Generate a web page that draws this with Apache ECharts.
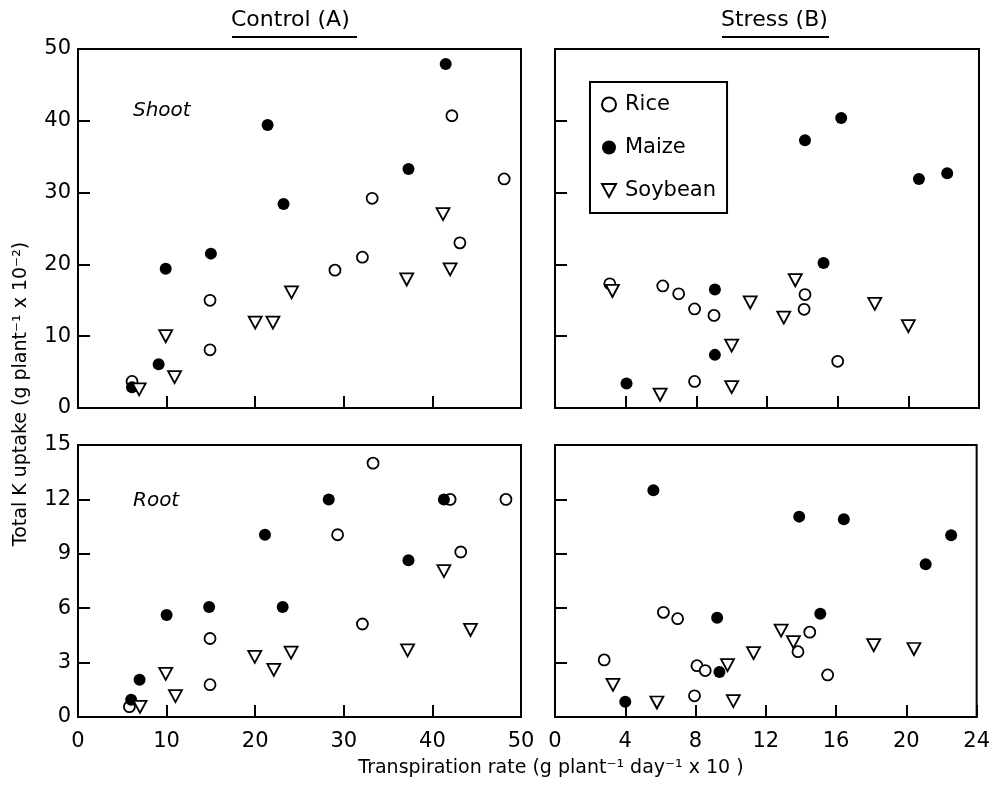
<!DOCTYPE html>
<html>
<head>
<meta charset="utf-8">
<script src="https://cdn.jsdelivr.net/npm/echarts@6/dist/echarts.min.js"></script>
<style>
  html, body { margin: 0; padding: 0; background: #fff; }
  #chart { width: 993px; height: 793px; }
</style>
</head>
<body>
<div id="chart"></div>
<script>
// Shoot, control (A) : [transpiration, K uptake]
const shootControlRice = [[42.2, 40.7], [48.1, 31.9], [33.2, 29.2], [43.1, 23.0], [32.1, 21.0], [29.0, 19.2], [14.9, 15.0], [14.9, 8.1], [6.1, 3.7]];
const shootControlMaize = [[41.5, 47.9], [21.4, 39.4], [37.3, 33.3], [23.2, 28.4], [15.0, 21.5], [9.9, 19.4], [9.1, 6.1], [6.1, 2.9]];
const shootControlSoybean = [[41.2, 27.0], [42.0, 19.3], [37.1, 17.9], [24.1, 16.1], [20.0, 11.9], [22.0, 11.9], [9.9, 10.0], [10.9, 4.3], [6.9, 2.6]];

// Shoot, stress (B)
const shootStressRice = [[3.1, 17.3], [6.1, 17.0], [7.0, 15.9], [7.9, 13.8], [9.0, 12.9], [14.15, 15.8], [14.1, 13.75], [16.0, 6.5], [7.9, 3.7]];
const shootStressMaize = [[16.2, 40.4], [14.15, 37.3], [20.6, 31.9], [22.2, 32.7], [15.2, 20.2], [9.05, 16.5], [9.05, 7.4], [4.05, 3.4]];
const shootStressSoybean = [[3.25, 16.3], [13.6, 17.8], [11.05, 14.7], [12.95, 12.6], [18.1, 14.5], [20.0, 11.4], [10.0, 8.7], [10.0, 2.9], [5.95, 1.85]];

// Root, control (A)
const rootControlRice = [[33.3, 14.0], [29.3, 10.05], [42.0, 12.0], [48.3, 12.0], [43.2, 9.1], [32.1, 5.13], [14.9, 4.33], [14.9, 1.78], [5.8, 0.57]];
const rootControlMaize = [[28.3, 12.0], [41.3, 12.0], [21.1, 10.05], [37.3, 8.65], [14.8, 6.07], [23.1, 6.07], [10.0, 5.62], [6.95, 2.06], [6.0, 0.95]];
const rootControlSoybean = [[41.3, 8.05], [44.3, 4.8], [37.2, 3.68], [24.05, 3.55], [19.95, 3.32], [22.1, 2.6], [9.9, 2.38], [11.0, 1.15], [7.0, 0.56]];

// Root, stress (B)
const rootStressRice = [[2.8, 3.15], [6.17, 5.77], [6.98, 5.42], [8.08, 2.83], [8.55, 2.56], [7.94, 1.17], [14.5, 4.68], [13.83, 3.6], [15.52, 2.32]];
const rootStressMaize = [[5.6, 12.5], [13.9, 11.05], [16.44, 10.9], [22.55, 10.02], [21.1, 8.42], [15.1, 5.7], [9.23, 5.47], [9.36, 2.48], [4.0, 0.84]];
const rootStressSoybean = [[3.3, 1.77], [5.8, 0.8], [9.82, 2.86], [10.15, 0.88], [11.3, 3.52], [12.87, 4.76], [13.57, 4.13], [18.14, 3.96], [20.43, 3.75]];

const speciesNames = ['Rice', 'Maize', 'Soybean'];
const shootTicks = { min: 0, max: 50, interval: 10 };
const rootTicks = { min: 0, max: 15, interval: 3 };
const controlTicks = { min: 0, max: 50, interval: 10 };
const stressTicks = { min: 0, max: 24, interval: 4 };

const font = 'DejaVu Sans';

// downward triangle, drawn as a path so the legend shows it the same way
const downTriangle = 'path://M0,0 L12,0 L6,11 Z';

const markerStyle = {
  Rice: { symbol: 'circle', symbolSize: 11, itemStyle: { color: '#fff', borderColor: '#000', borderWidth: 1.8, opacity: 1 } },
  Maize: { symbol: 'circle', symbolSize: 12, itemStyle: { color: '#000', borderColor: '#000', borderWidth: 0, opacity: 1 } },
  Soybean: { symbol: downTriangle, symbolSize: [13, 12], itemStyle: { color: '#fff', borderColor: '#000', borderWidth: 1.8, opacity: 1 } }
};

function makeSeries(name, data, idx) {
  const s = markerStyle[name];
  return {
    name: name,
    type: 'scatter',
    xAxisIndex: idx,
    yAxisIndex: idx,
    data: data,
    symbol: s.symbol,
    symbolSize: s.symbolSize,
    itemStyle: s.itemStyle,
    emphasis: { disabled: true },
    z: 3
  };
}

const panels = [
  [shootControlRice, shootControlMaize, shootControlSoybean],
  [shootStressRice, shootStressMaize, shootStressSoybean],
  [rootControlRice, rootControlMaize, rootControlSoybean],
  [rootStressRice, rootStressMaize, rootStressSoybean]
];

const series = [];
panels.forEach(function (sets, idx) {
  sets.forEach(function (d, k) { series.push(makeSeries(speciesNames[k], d, idx)); });
});

const gridLeftA = 78, gridLeftB = 555;
const gridTop1 = 49, gridTop2 = 445;
const grids = [
  { left: gridLeftA, top: gridTop1, width: 443, height: 359 },
  { left: gridLeftB, top: gridTop1, width: 424, height: 359 },
  { left: gridLeftA, top: gridTop2, width: 443, height: 272 },
  { left: gridLeftB, top: gridTop2, width: 424, height: 272 }
].map(function (g) {
  return Object.assign({ show: true, borderColor: '#000', borderWidth: 2, containLabel: false }, g);
});

function axisCommon(ticks, showLabel, margin) {
  return {
    type: 'value',
    min: ticks.min,
    max: ticks.max,
    interval: ticks.interval,
    splitLine: { show: false },
    axisLine: { show: true, lineStyle: { color: '#000', width: 2 } },
    axisTick: { show: true, inside: true, length: 12, lineStyle: { color: '#000', width: 2 } },
    axisLabel: { show: showLabel, color: '#000', fontSize: 21, fontFamily: font, margin: margin }
  };
}

const xAxes = [
  Object.assign(axisCommon(controlTicks, false, 14), { gridIndex: 0 }),
  Object.assign(axisCommon(stressTicks, false, 14), { gridIndex: 1 }),
  Object.assign(axisCommon(controlTicks, true, 14), { gridIndex: 2 }),
  Object.assign(axisCommon(stressTicks, true, 14), { gridIndex: 3 })
];
const yAxes = [
  Object.assign(axisCommon(shootTicks, true, 7), { gridIndex: 0 }),
  Object.assign(axisCommon(shootTicks, false, 7), { gridIndex: 1 }),
  Object.assign(axisCommon(rootTicks, true, 7), { gridIndex: 2 }),
  Object.assign(axisCommon(rootTicks, false, 7), { gridIndex: 3 })
];

const chart = echarts.init(document.getElementById('chart'), null, { renderer: 'canvas' });
chart.setOption({
  animation: false,
  backgroundColor: '#fff',
  grid: grids,
  xAxis: xAxes,
  yAxis: yAxes,
  legend: {
    data: speciesNames,
    orient: 'vertical',
    left: 590,
    top: 82,
    borderColor: '#000',
    borderWidth: 2,
    padding: [12, 11, 12, 11],
    itemGap: 22,
    itemWidth: 14,
    itemHeight: 14,
    selectedMode: false,
    textStyle: { fontSize: 21, color: '#000', fontFamily: font, padding: [0, 0, 0, 4] }
  },
  graphic: [
    { type: 'text', left: 231, top: 9, style: { text: 'Control (A)', font: '22px "DejaVu Sans"', fill: '#000' } },
    { type: 'line', shape: { x1: 232, y1: 37, x2: 357, y2: 37 }, style: { stroke: '#000', lineWidth: 2 } },
    { type: 'text', left: 721, top: 9, style: { text: 'Stress (B)', font: '22px "DejaVu Sans"', fill: '#000' } },
    { type: 'line', shape: { x1: 722, y1: 37, x2: 829, y2: 37 }, style: { stroke: '#000', lineWidth: 2 } },
    { type: 'text', x: 133, y: 111, style: { text: 'Shoot', font: 'italic 20px "DejaVu Sans"', fill: '#000', textVerticalAlign: 'middle' } },
    { type: 'text', x: 133, y: 501, style: { text: 'Root', font: 'italic 20px "DejaVu Sans"', fill: '#000', textVerticalAlign: 'middle' } },
    { type: 'text', x: 21, y: 394, rotation: Math.PI / 2, style: { text: 'Total K uptake (g plant⁻¹ x 10⁻²)', font: '19px "DejaVu Sans"', fill: '#000', textAlign: 'center', textVerticalAlign: 'middle' } },
    { type: 'text', x: 551, y: 768, style: { text: 'Transpiration rate (g plant⁻¹ day⁻¹ x 10 )', font: '19px "DejaVu Sans"', fill: '#000', textAlign: 'center', textVerticalAlign: 'middle' } }
  ],
  series: series
});
</script>
</body>
</html>
